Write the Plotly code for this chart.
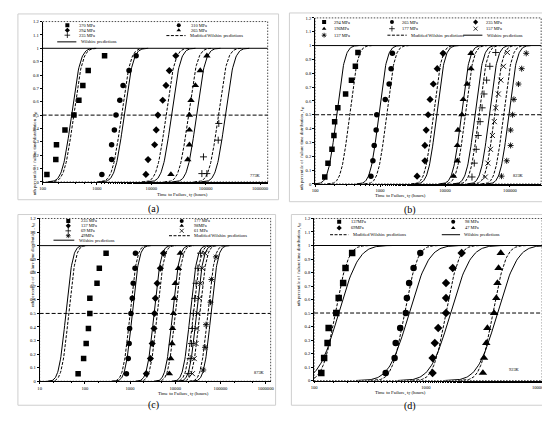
import math
import plotly.graph_objects as go

# ---------------- percentile levels of the plotted failures ----------------
P9 = [0.056, 0.167, 0.278, 0.389, 0.5, 0.611, 0.722, 0.833, 0.944]
P10 = [0.05, 0.15, 0.25, 0.35, 0.45, 0.55, 0.65, 0.75, 0.85, 0.95]
P6 = [0.083, 0.25, 0.417, 0.583, 0.75, 0.917]
A235_P = [0.0625, 0.0625, 0.1875, 0.3125, 0.4375]

Y_TICKS = [0, 0.1, 0.2, 0.3, 0.4, 0.5, 0.6, 0.7, 0.8, 0.9, 1, 1.1, 1.2]
Y_TICK_TEXT = ["0", "0.1", "0.2", "0.3", "0.4", "0.5", "0.6", "0.7", "0.8", "0.9", "1", "1.1", "1.2"]

# ---------------- (a) 773K ----------------
A_TEMP = "773K"
A_STRESS = ["370 MPa", "310 MPa", "294 MPa", "265 MPa", "235 MPa"]
A_T370 = [120, 175, 180, 258, 377, 465, 550, 690, 1380]
A_T310 = [1230, 1860, 1860, 2090, 2240, 2630, 3020, 3890, 5250]
A_T294 = [7940, 8710, 11500, 12300, 13200, 16200, 18600, 21400, 28200]
A_T265 = [22900, 46800, 50100, 50100, 50100, 53700, 64600, 79400, 105000]
A_T235 = [85000, 105000, 91000, 170000, 174000]
A_MOD_T50 = [372, 2820, 18600, 47900, 170000]
A_WIL_T50 = [339, 3160, 23400, 67600, 229000]
A_SIGMA = 0.13
A_XTICKS = [100, 1000, 10000, 100000, 1000000]

# ---------------- (b) 823K ----------------
B_TEMP = "823K"
B_STRESS = ["294 MPa", "265 MPa", "235 MPa", "196MPa", "177 MPa", "157 MPa", "137 MPa"]
B_T294 = [141, 158, 182, 195, 200, 224, 295, 363, 417, 457]
B_T265 = [724, 776, 813, 871, 891, 1202, 1380, 1479, 1549]
B_T235 = [3715, 4900, 4900, 5130, 5500, 5890, 6610, 7590, 9330]
B_T196 = [13500, 15500, 15500, 15800, 18200, 19100, 21900, 25100, 25100]
B_T177 = [26000, 28200, 30200, 32400, 34700, 37200, 39800, 43700, 49000, 60300]
B_T157 = [41700, 45700, 50100, 53700, 57500, 60300, 66100, 72400, 79400, 91200]
B_T137 = [74100, 89100, 102300, 102300, 109600, 114800, 134900, 151400, 177800]
B_MOD_T50 = [339, 1259, 6610, 20400, 33100, 57500, 79400]
B_WIL_T50 = [214, 955, 7410, 17800, 28800, 47900, 95500]
B_SIGMA = 0.10
B_XTICKS = [100, 1000, 10000, 100000]

# ---------------- (c) 873K ----------------
C_TEMP = "873K"
C_STRESS = ["235 MPa", "177 MPa", "137 MPa", "98MPa", "69 MPa", "61 MPa", "49MPa"]
C_T235 = [71, 94, 107, 120, 129, 129, 186, 209, 295]
C_T177 = [832, 912, 955, 977, 1047, 1122, 1175, 1288, 1318]
C_T137 = [2290, 2820, 3090, 3390, 3470, 3630, 3980, 4680, 5500]
C_T98 = [7410, 7940, 8510, 8710, 9120, 9550, 10000, 11750, 12900]
C_T69 = [19950, 21380, 22900, 23990, 25120, 26920, 28840, 31620, 36310]
C_T61 = [23990, 26300, 28840, 30200, 31620, 33900, 36310, 39810, 45710]
C_T49 = [41690, 45710, 47860, 60260, 63100, 79430]
C_MOD_T50 = [44, 1000, 3980, 10000, 25100, 34700, 52500]
C_WIL_T50 = [38, 1120, 3390, 8710, 21400, 29500, 61700]
C_SIGMA = 0.12
C_XTICKS = [10, 100, 1000, 10000, 100000, 1000000]

# ---------------- (d) 923K ----------------
D_TEMP = "923K"
D_STRESS = ["137MPa", "98 MPa", "69MPa", "47 MPa"]
D_T137 = [116, 123, 132, 135, 158, 166, 182, 191, 219]
D_T98 = [437, 525, 537, 589, 661, 676, 708, 776, 891]
D_T69 = [1148, 1148, 1202, 1288, 1514, 1514, 1514, 1738, 2089]
D_T47 = [3236, 3311, 3467, 3548, 4074, 4266, 4365, 4467, 4677]
D_MOD_T50 = [155, 646, 1514, 3981]
D_WIL_T50 = [166, 708, 1660, 4365]
D_SIGMA_MOD = 0.09
D_SIGMA_WIL = 0.14
D_XTICKS = [100, 1000, 10000]

MOD_NAME = "Modified Wilshire predictions"
WIL_NAME = "Wilshire predictions"

W, H = 550, 421
FONT = "Liberation Serif"


def px(x):
    return x / W


def py(y):
    return 1 - y / H


def cdf_curve(t50, sigma):
    lm = math.log10(t50)
    xs, ys = [], []
    n = 90
    for i in range(n + 1):
        lt = lm + sigma * (-3.4 + 6.8 * i / n)
        xs.append(10 ** lt)
        ys.append(0.5 * (1 + math.erf((lt - lm) / (sigma * math.sqrt(2)))))
    return xs, ys


OPEN_SYMS = {"cross-thin", "x-thin", "asterisk"}

panels = [
    dict(n=1, xdom=[px(32), px(260)], ydom=[py(174), py(11.7)], xr=[2, 6.14], xt=A_XTICKS,
         series=[(A_T370, P9, "square"), (A_T310, P9, "circle"), (A_T294, P9, "diamond"),
                 (A_T265, P9, "triangle-up"), (A_T235, A235_P, "cross-thin")],
         mod=A_MOD_T50, wil=A_WIL_T50, smod=A_SIGMA, swil=A_SIGMA, msize=5.5,
         legend=[("square", A_STRESS[0], 0.11, 1.172), ("circle", A_STRESS[1], 0.605, 1.172),
                 ("diamond", A_STRESS[2], 0.11, 1.135), ("triangle-up", A_STRESS[3], 0.605, 1.135),
                 ("cross-thin", A_STRESS[4], 0.11, 1.098), ("dash", MOD_NAME, 0.55, 1.095),
                 ("solid", WIL_NAME, 0.065, 1.048)],
         toff=0.045, llen=0.085,
         temp=A_TEMP, temp_xy=(248, 167), label="(a)", label_xy=(137, 201),
         frame=(7, 4, 271, 192), xtitle_xy=(146, 187.5), ytitle_xy=(19.5, 100)),
    dict(n=2, xdom=[px(308), px(537)], ydom=[py(176), py(8)], xr=[2, 5.48], xt=B_XTICKS,
         series=[(B_T294, P10, "square"), (B_T265, P9, "circle"), (B_T235, P9, "diamond"),
                 (B_T196, P9, "triangle-up"), (B_T177, P10, "cross-thin"),
                 (B_T157, P10, "x-thin"), (B_T137, P9, "asterisk")],
         mod=B_MOD_T50, wil=B_WIL_T50, smod=B_SIGMA, swil=B_SIGMA, msize=5.5,
         legend=[("square", B_STRESS[0], 0.04, 1.17), ("circle", B_STRESS[1], 0.34, 1.17),
                 ("diamond", B_STRESS[2], 0.71, 1.17),
                 ("triangle-up", B_STRESS[3], 0.04, 1.122), ("cross-thin", B_STRESS[4], 0.34, 1.122),
                 ("x-thin", B_STRESS[5], 0.71, 1.122),
                 ("asterisk", B_STRESS[6], 0.04, 1.075), ("dash", MOD_NAME, 0.32, 1.075),
                 ("solid", WIL_NAME, 0.655, 1.075)],
         toff=0.035, llen=0.085,
         temp=B_TEMP, temp_xy=(522, 167), label="(b)", label_xy=(412, 202),
         frame=(282, 3, 543, 194), xtitle_xy=(422, 188.5), ytitle_xy=(295, 95)),
    dict(n=3, xdom=[px(29), px(263)], ydom=[py(375.7), py(211)], xr=[1, 6.11], xt=C_XTICKS,
         series=[(C_T235, P9, "square"), (C_T177, P9, "circle"), (C_T137, P9, "diamond"),
                 (C_T98, P9, "triangle-up"), (C_T69, P9, "cross-thin"),
                 (C_T61, P9, "x-thin"), (C_T49, P6, "asterisk")],
         mod=C_MOD_T50, wil=C_WIL_T50, smod=C_SIGMA, swil=C_SIGMA, msize=5.5,
         legend=[("square", C_STRESS[0], 0.124, 1.182), ("circle", C_STRESS[1], 0.615, 1.182),
                 ("diamond", C_STRESS[2], 0.124, 1.146), ("triangle-up", C_STRESS[3], 0.615, 1.146),
                 ("cross-thin", C_STRESS[4], 0.124, 1.109), ("x-thin", C_STRESS[5], 0.615, 1.109),
                 ("asterisk", C_STRESS[6], 0.124, 1.073), ("dash", MOD_NAME, 0.56, 1.073),
                 ("solid", WIL_NAME, 0.06, 1.04)],
         toff=0.045, llen=0.09,
         temp=C_TEMP, temp_xy=(252, 371), label="(c)", label_xy=(137, 408),
         frame=(7, 207, 268, 400), xtitle_xy=(147, 393.5), ytitle_xy=(17.5, 302)),
    dict(n=4, xdom=[px(307), px(538)], ydom=[py(375), py(211)], xr=[2, 4.04], xt=D_XTICKS,
         series=[(D_T137, P9, "square"), (D_T98, P9, "circle"), (D_T69, P9, "diamond"),
                 (D_T47, P9, "triangle-up")],
         mod=D_MOD_T50, wil=D_WIL_T50, smod=D_SIGMA_MOD, swil=D_SIGMA_WIL, msize=6.5,
         legend=[("square", D_STRESS[0], 0.11, 1.175), ("circle", D_STRESS[1], 0.61, 1.175),
                 ("diamond", D_STRESS[2], 0.11, 1.13), ("triangle-up", D_STRESS[3], 0.61, 1.13),
                 ("dash", MOD_NAME, 0.07, 1.08), ("solid", WIL_NAME, 0.56, 1.08)],
         toff=0.045, llen=0.08,
         temp=D_TEMP, temp_xy=(518, 368), label="(d)", label_xy=(412, 409),
         frame=(284, 207, 545, 400), xtitle_xy=(422, 392.5), ytitle_xy=(292.5, 302)),
]

fig = go.Figure()
shapes, annotations = [], []
layout = dict(width=W, height=H, margin=dict(l=0, r=0, t=0, b=0),
              paper_bgcolor="white", plot_bgcolor="white", showlegend=False,
              font=dict(family=FONT, color="black", size=5))

MOD_DASH = "3px,1.5px"

for p in panels:
    n = p["n"]
    xa = "x" if n == 1 else f"x{n}"
    ya = "y" if n == 1 else f"y{n}"
    xkey = "xaxis" if n == 1 else f"xaxis{n}"
    ykey = "yaxis" if n == 1 else f"yaxis{n}"
    layout[xkey] = dict(type="log", domain=p["xdom"], range=p["xr"], anchor=ya,
                        tickvals=p["xt"], ticktext=[str(v) for v in p["xt"]],
                        ticks="outside", ticklen=2, tickwidth=0.6, tickcolor="black",
                        tickfont=dict(size=4.6, family=FONT),
                        minor=dict(ticks="outside", ticklen=1.2, tickwidth=0.4, tickcolor="black"),
                        showline=True, linecolor="black", linewidth=0.8,
                        showgrid=False, zeroline=False)
    layout[ykey] = dict(domain=p["ydom"], range=[0, 1.2], anchor=xa,
                        tickvals=Y_TICKS, ticktext=Y_TICK_TEXT,
                        ticks="outside", ticklen=2, tickwidth=0.6, tickcolor="black",
                        tickfont=dict(size=4.6, family=FONT),
                        showline=True, linecolor="black", linewidth=0.8,
                        showgrid=False, zeroline=False)

    # prediction curves
    for t50 in p["mod"]:
        cx, cy = cdf_curve(t50, p["smod"])
        fig.add_trace(go.Scatter(x=cx, y=cy, mode="lines", xaxis=xa, yaxis=ya,
                                 line=dict(color="black", width=1, dash=MOD_DASH)))
    for t50 in p["wil"]:
        cx, cy = cdf_curve(t50, p["swil"])
        fig.add_trace(go.Scatter(x=cx, y=cy, mode="lines", xaxis=xa, yaxis=ya,
                                 line=dict(color="black", width=1)))

    # observed failures
    for ts, ps, sym in p["series"]:
        op = sym in OPEN_SYMS
        size = p["msize"] + (1 if sym == "triangle-up" else 0) - (0.5 if op else 0)
        fig.add_trace(go.Scatter(
            x=ts, y=ps, mode="markers", xaxis=xa, yaxis=ya,
            marker=dict(symbol=sym, size=size, color="black",
                        line=dict(color="black", width=0.9 if op else 0))))

    # legend inside the plot (above y = 1)
    r0, r1 = p["xr"]
    for kind, text, xf, yv in p["legend"]:
        if kind in ("dash", "solid"):
            shapes.append(dict(type="line", xref=f"{xa} domain", yref=ya,
                               x0=xf, x1=xf + p["llen"], y0=yv, y1=yv,
                               line=dict(color="black", width=1,
                                         dash=MOD_DASH if kind == "dash" else "solid")))
            tx = xf + p["llen"] + 0.01
        else:
            op = kind in OPEN_SYMS
            fig.add_trace(go.Scatter(
                x=[10 ** (r0 + xf * (r1 - r0))], y=[yv], mode="markers", xaxis=xa, yaxis=ya,
                marker=dict(symbol=kind, size=4, color="black",
                            line=dict(color="black", width=0.8 if op else 0))))
            tx = xf + p["toff"]
        annotations.append(dict(text=text, xref=f"{xa} domain", yref=ya, x=tx, y=yv,
                                xanchor="left", yanchor="middle", showarrow=False,
                                font=dict(size=4.4, family=FONT)))

    # reference lines and plot frame
    shapes.append(dict(type="line", xref=f"{xa} domain", yref=ya, x0=0, x1=1, y0=1, y1=1,
                       line=dict(color="black", width=1)))
    shapes.append(dict(type="line", xref=f"{xa} domain", yref=ya, x0=0, x1=1, y0=0.5, y1=0.5,
                       line=dict(color="black", width=1, dash="4px,2px")))
    shapes.append(dict(type="rect", xref=f"{xa} domain", yref=f"{ya} domain",
                       x0=0, x1=1, y0=0, y1=1,
                       line=dict(color="black", width=0.7, dash="1.5px,1.5px")))
    fx0, fy0, fx1, fy1 = p["frame"]
    shapes.append(dict(type="rect", xref="paper", yref="paper",
                       x0=px(fx0), x1=px(fx1), y0=py(fy1), y1=py(fy0),
                       line=dict(color="#cfcfcf", width=1)))

    # texts
    annotations.append(dict(text=p["temp"], xref="paper", yref="paper",
                            x=px(p["temp_xy"][0]), y=py(p["temp_xy"][1]),
                            showarrow=False, font=dict(size=4.4, family=FONT)))
    annotations.append(dict(text="Time to Failure, t<sub>F</sub> (hours)", xref="paper", yref="paper",
                            x=px(p["xtitle_xy"][0]), y=py(p["xtitle_xy"][1]),
                            showarrow=False, font=dict(size=4.8, family=FONT)))
    annotations.append(dict(text="nth percentile of  failure time distribution , t<sub>nf</sub>",
                            xref="paper", yref="paper", textangle=-90,
                            x=px(p["ytitle_xy"][0]), y=py(p["ytitle_xy"][1]),
                            showarrow=False, font=dict(size=4.6, family=FONT)))
    annotations.append(dict(text=p["label"], xref="paper", yref="paper",
                            x=px(p["label_xy"][0]), y=py(p["label_xy"][1]),
                            showarrow=False, font=dict(size=10, family=FONT)))

layout["shapes"] = shapes
layout["annotations"] = annotations
fig.update_layout(**layout)
fig.write_html("out.html")
